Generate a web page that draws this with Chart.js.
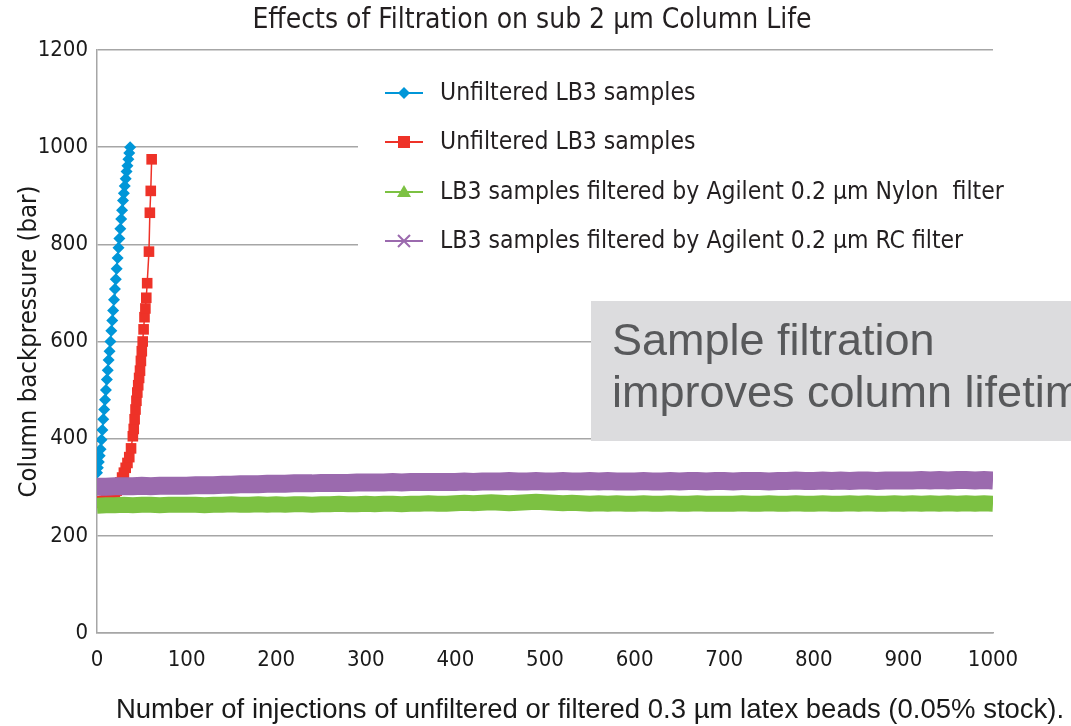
<!DOCTYPE html>
<html>
<head>
<meta charset="utf-8">
<script src="https://cdn.jsdelivr.net/npm/chart.js@4.4.0/dist/chart.umd.min.js"></script>
<style>
  html, body { margin: 0; padding: 0; background: #fff; }
</style>
</head>
<body>
<canvas id="grafico" width="1071" height="726"></canvas>
<script>
const NARROW = '"DejaVu Sans Condensed", "Liberation Sans Narrow", sans-serif'
const ARIAL = '"Liberation Sans", Arial, sans-serif'

const titulo = 'Effects of Filtration on sub 2 µm Column Life'
const eixoY = 'Column backpressure (bar)'
const legenda = 'Number of injections of unfiltered or filtered 0.3 µm latex beads (0.05% stock).'
const caixaTexto = ['Sample filtration', 'improves column lifetime']

const nomes = [
  'Unfiltered LB3 samples',
  'Unfiltered LB3 samples',
  'LB3 samples filtered by Agilent 0.2 µm Nylon  filter',
  'LB3 samples filtered by Agilent 0.2 µm RC filter'
]

// serie azul (uma injecao por ponto)
const azulX = [0, 1, 2, 3, 4, 5, 6, 7, 8, 9, 10, 11, 12, 13, 14, 15, 16, 17, 18, 19,
  20, 21, 22, 23, 24, 25, 26, 27, 28, 29, 30, 31, 32, 33, 34, 35, 36, 37]
const azulY = [330, 340, 352, 365, 378, 398, 418, 440, 460, 480, 500, 522, 541, 562, 580, 600, 622, 643, 664, 686,
  708, 728, 750, 772, 793, 812, 832, 852, 870, 890, 905, 920, 935, 950, 962, 975, 988, 1000]

// serie vermelha
const vermX = [0, 2, 4, 6, 8, 10, 12, 14, 16, 18, 20, 22, 24, 26, 28, 30, 32, 34, 36, 38,
  40, 41, 42, 43, 44, 45, 46, 47, 48, 49, 50, 51, 52, 53, 54, 55, 56, 58, 59, 60, 61]
const vermY = [268, 269, 270, 271, 272, 274, 276, 278, 281, 284, 288, 293, 300, 310, 320, 330, 340, 350, 362, 380,
  405, 420, 440, 460, 478, 495, 510, 525, 540, 560, 580, 600, 625, 650, 668, 690, 720, 785, 865, 910, 975]

// series filtradas, lidas a cada 10 injecoes (0..1000)
const filtX = Array.from({ length: 101 }, (_, i) => i * 10)
const verdeY = [
  262, 263, 263, 264, 263, 264, 264, 263, 264, 264,
  264, 264, 263, 264, 264, 265, 264, 264, 265, 264,
  265, 264, 265, 265, 264, 265, 265, 266, 265, 265,
  266, 265, 266, 266, 265, 266, 266, 267, 266, 266,
  267, 268, 267, 268, 269, 268, 267, 268, 269, 270,
  269, 268, 267, 268, 267, 266, 267, 266, 267, 266,
  266, 267, 266, 266, 267, 266, 266, 267, 266, 266,
  266, 266, 267, 266, 266, 267, 266, 266, 267, 266,
  266, 267, 266, 266, 267, 266, 267, 266, 266, 267,
  266, 267, 266, 267, 266, 267, 266, 267, 266, 267, 266
]
const roxoY = [
  301, 301, 302, 302, 302, 303, 302, 303, 303, 303,
  303, 304, 304, 304, 305, 305, 306, 306, 306, 307,
  307, 307, 308, 308, 308, 309, 309, 309, 309, 310,
  310, 310, 310, 311, 310, 311, 311, 311, 311, 311,
  311, 312, 311, 312, 312, 312, 313, 312, 312, 313,
  312, 312, 313, 312, 312, 313, 312, 313, 312, 312,
  312, 313, 312, 312, 313, 312, 313, 313, 312, 313,
  313, 312, 313, 313, 313, 312, 313, 313, 314, 313,
  313, 314, 313, 314, 313, 314, 314, 313, 314, 314,
  314, 314, 315, 314, 315, 314, 315, 315, 314, 315, 314
]

const ticksY = [0, 200, 400, 600, 800, 1000, 1200]
const ticksX = [0, 100, 200, 300, 400, 500, 600, 700, 800, 900, 1000]

const cores = ['#0096d8', '#ee3228', '#7cc142', '#9b6aae']
const pontos = ['rectRot', 'rect', 'triangle', 'crossRot']

const pares = (xs, ys) => xs.map((x, i) => ({ x: x, y: ys[i] }))

function marcador(ctx, estilo, x, y, cor) {
  ctx.fillStyle = cor
  ctx.strokeStyle = cor
  ctx.beginPath()
  if (estilo === 'rectRot') {
    ctx.moveTo(x, y - 6); ctx.lineTo(x + 6, y); ctx.lineTo(x, y + 6); ctx.lineTo(x - 6, y)
    ctx.closePath(); ctx.fill()
  } else if (estilo === 'rect') {
    ctx.rect(x - 6, y - 6, 12, 12); ctx.fill()
  } else if (estilo === 'triangle') {
    ctx.moveTo(x, y - 7); ctx.lineTo(x + 7, y + 5); ctx.lineTo(x - 7, y + 5)
    ctx.closePath(); ctx.fill()
  } else {
    ctx.lineWidth = 2
    ctx.moveTo(x - 6, y - 6); ctx.lineTo(x + 6, y + 6)
    ctx.moveTo(x + 6, y - 6); ctx.lineTo(x - 6, y + 6)
    ctx.stroke()
  }
}

const extras = {
  id: 'extras',
  beforeDatasetsDraw(chart) {
    const ctx = chart.ctx
    ctx.save()
    // titulo
    ctx.fillStyle = '#231f20'
    ctx.font = '28px ' + NARROW
    ctx.textAlign = 'center'
    ctx.textBaseline = 'middle'
    ctx.fillText(titulo, 532, 21)

    // fundo branco da legenda (corta as linhas de grade)
    ctx.fillStyle = '#ffffff'
    ctx.fillRect(358, 64, 660, 200)
    const linhas = [93, 142, 192, 241]
    chart.data.datasets.forEach((ds, i) => {
      const y = linhas[i]
      ctx.strokeStyle = ds.borderColor
      ctx.lineWidth = 2
      ctx.beginPath()
      ctx.moveTo(385, y)
      ctx.lineTo(423, y)
      ctx.stroke()
      marcador(ctx, ds.pointStyle, 404, y, ds.borderColor)
      ctx.fillStyle = '#231f20'
      ctx.font = '24.5px ' + NARROW
      ctx.textBaseline = 'middle'
      ctx.textAlign = 'left'
      ctx.fillText(ds.label, 440, y + 1)
    })
    ctx.restore()
  },
  afterDraw(chart) {
    const ctx = chart.ctx
    ctx.save()
    ctx.fillStyle = '#dcdcde'
    ctx.fillRect(591, 301, 520, 140)
    ctx.fillStyle = '#58595b'
    ctx.font = '45px ' + ARIAL
    ctx.textBaseline = 'alphabetic'
    ctx.textAlign = 'left'
    ctx.fillText(caixaTexto[0], 612, 355)
    ctx.fillText(caixaTexto[1], 612, 407)

    ctx.fillStyle = '#1a1a1a'
    ctx.font = '27.5px ' + ARIAL
    ctx.textAlign = 'center'
    ctx.fillText(legenda, 590, 718)
    ctx.restore()
  }
}

const grafico = document.getElementById('grafico').getContext('2d')

const meuGrafico = new Chart(grafico, {
  type: 'scatter',
  data: {
    datasets: [
      {
        label: nomes[0],
        data: pares(azulX, azulY),
        showLine: true,
        borderColor: cores[0],
        backgroundColor: cores[0],
        borderWidth: 1.5,
        pointStyle: pontos[0],
        pointRadius: 6,
        pointBorderWidth: 0,
        order: 3
      },
      {
        label: nomes[1],
        data: pares(vermX, vermY),
        showLine: true,
        borderColor: cores[1],
        backgroundColor: cores[1],
        borderWidth: 1.5,
        pointStyle: pontos[1],
        pointRadius: 7.5,
        pointBorderWidth: 0,
        order: 2
      },
      {
        label: nomes[2],
        data: pares(filtX, verdeY),
        showLine: true,
        borderColor: cores[2],
        backgroundColor: cores[2],
        borderWidth: 16,
        pointStyle: pontos[2],
        pointRadius: 0,
        order: 1
      },
      {
        label: nomes[3],
        data: pares(filtX, roxoY),
        showLine: true,
        borderColor: cores[3],
        backgroundColor: cores[3],
        borderWidth: 18,
        pointStyle: pontos[3],
        pointRadius: 0,
        order: 0
      }
    ]
  },
  options: {
    responsive: false,
    animation: false,
    layout: { padding: { left: 0, right: 78, top: 50, bottom: 0 } },
    plugins: {
      legend: { display: false },
      tooltip: { enabled: false },
      title: { display: false }
    },
    scales: {
      x: {
        type: 'linear',
        min: 0,
        max: 1000,
        afterBuildTicks: (s) => { s.ticks = ticksX.map(v => ({ value: v })) },
        afterFit: (s) => { s.height = 93 },
        grid: { display: false },
        border: { display: true, color: '#a6a6a6', width: 1.5 },
        ticks: { color: '#1a1a1a', padding: 6, font: { family: NARROW, size: 22 }, callback: (v) => String(v) }
      },
      y: {
        min: 0,
        max: 1200,
        afterBuildTicks: (s) => { s.ticks = ticksY.map(v => ({ value: v })) },
        afterFit: (s) => { s.width = 97 },
        grid: { color: '#a6a6a6', lineWidth: 1.5, drawTicks: false },
        border: { display: true, color: '#a6a6a6', width: 1.5 },
        ticks: { color: '#1a1a1a', padding: 9, font: { family: NARROW, size: 22 }, callback: (v) => String(v) },
        title: {
          display: true,
          text: eixoY,
          color: '#1a1a1a',
          font: { family: NARROW, size: 25.5 },
          padding: { top: 14, bottom: 0 }
        }
      }
    }
  },
  plugins: [extras]
})
</script>
</body>
</html>
